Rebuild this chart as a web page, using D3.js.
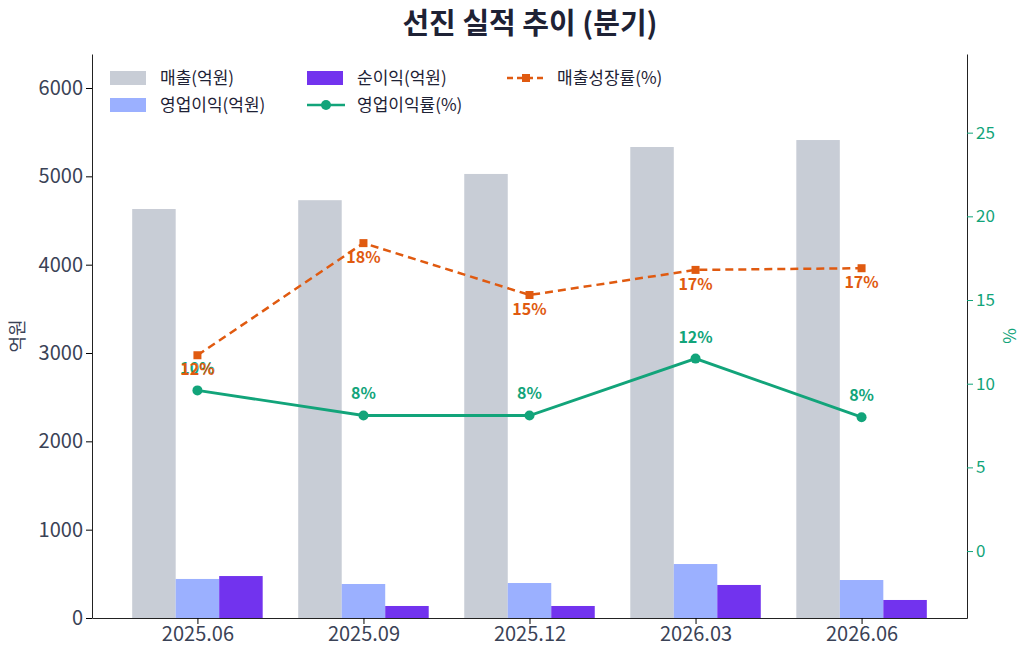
<!DOCTYPE html>
<html><head><meta charset="utf-8">
<script src="https://cdn.jsdelivr.net/npm/d3@7"></script>
<style>
body{margin:0;background:#fff;font-family:"Noto Sans CJK KR","Noto Sans",sans-serif;}
.axis text{font-family:"Noto Sans CJK KR","Noto Sans",sans-serif;}
</style></head><body><div id="chart"></div>
<script>
(function(){

let quarters = ['2025.06', '2025.09', '2025.12', '2026.03', '2026.06']
let sales = [4630, 4730, 5027, 5332, 5411]
let opProfit = [442, 385, 396, 611, 430]
let netProfit = [475, 136, 136, 374, 204]
let opMargin = [9.6, 8.1, 8.1, 11.5, 8.0]
let salesGrowth = [11.7, 18.4, 15.3, 16.8, 16.9]

let margin = { top: 54, left: 92, right: 63, bottom: 42 }
let width = 1030 - margin.left - margin.right
let height = 660 - margin.top - margin.bottom

let svg = d3.select('#chart').append('svg')
  .attr('width', 1030).attr('height', 660)
let g = svg.append('g')
  .attr('transform', 'translate(' + margin.left + ',' + margin.top + ')')

// Scales
let x = d3.scalePoint().domain(quarters).range([0, width]).padding(0.635)
let y = d3.scaleLinear().domain([0, 6385]).range([height, 0])
let y2 = d3.scaleLinear().domain([-4.0, 29.7]).range([height, 0])
let barW = 43.5

let green = '#12a47a', orange = '#e05a10'

// Title
svg.append('text').attr('x', 530).attr('y', 34).attr('text-anchor', 'middle')
  .attr('font-size', 29).attr('font-weight', 'bold').attr('fill', '#1e2235')
  .text('선진 실적 추이 (분기)')

// Bars
let series = [
  { values: sales, color: '#c8cdd6', off: -1 },
  { values: opProfit, color: '#9bb0ff', off: 0 },
  { values: netProfit, color: '#7233ee', off: 1 }
]
series.forEach(function(s){
  g.selectAll(null).data(quarters).enter().append('rect')
    .attr('x', function(d){ return x(d) + s.off * barW - barW / 2 })
    .attr('y', function(d, i){ return y(s.values[i]) })
    .attr('width', barW)
    .attr('height', function(d, i){ return height - y(s.values[i]) })
    .attr('fill', s.color)
})

// Lines
let line = d3.line().x(function(d, i){ return x(quarters[i]) }).y(function(d){ return y2(d) })

g.append('path').datum(opMargin).attr('d', line).attr('fill', 'none')
  .attr('stroke', green).attr('stroke-width', 2.8)
g.selectAll(null).data(opMargin).enter().append('circle')
  .attr('cx', function(d, i){ return x(quarters[i]) }).attr('cy', function(d){ return y2(d) })
  .attr('r', 5).attr('fill', green)

g.append('path').datum(salesGrowth).attr('d', line).attr('fill', 'none')
  .attr('stroke', orange).attr('stroke-width', 2.5).attr('stroke-dasharray', '8,5')
g.selectAll(null).data(salesGrowth).enter().append('rect')
  .attr('x', function(d, i){ return x(quarters[i]) - 4 }).attr('y', function(d){ return y2(d) - 4 })
  .attr('width', 8).attr('height', 8).attr('fill', orange)

// Labels
g.selectAll(null).data(opMargin).enter().append('text')
  .attr('x', function(d, i){ return x(quarters[i]) }).attr('y', function(d){ return y2(d) - 16 })
  .attr('text-anchor', 'middle').attr('font-size', 16).attr('font-weight', 'bold').attr('fill', green)
  .text(function(d){ return Math.round(d) + '%' })
g.selectAll(null).data(salesGrowth).enter().append('text')
  .attr('x', function(d, i){ return x(quarters[i]) }).attr('y', function(d){ return y2(d) + 20 })
  .attr('text-anchor', 'middle').attr('font-size', 16).attr('font-weight', 'bold').attr('fill', orange)
  .text(function(d){ return Math.round(d) + '%' })

// Axes
let xAxis = g.append('g').attr('class', 'axis').attr('transform', 'translate(0,' + height + ')')
  .call(d3.axisBottom(x).tickSizeOuter(0))
xAxis.selectAll('text').attr('font-size', 20).attr('fill', '#3a4256')
xAxis.select('.domain').attr('stroke', '#222')

let yAxis = g.append('g').attr('class', 'axis')
  .call(d3.axisLeft(y).tickValues([0, 1000, 2000, 3000, 4000, 5000, 6000]).tickFormat(d3.format('d')).tickSizeOuter(0))
yAxis.selectAll('text').attr('font-size', 20).attr('fill', '#3a4256')
yAxis.select('.domain').attr('stroke', '#222')

let yAxis2 = g.append('g').attr('class', 'axis').attr('transform', 'translate(' + width + ',0)')
  .call(d3.axisRight(y2).tickValues([0, 5, 10, 15, 20, 25]).tickSizeOuter(0))
yAxis2.selectAll('text').attr('font-size', 17).attr('fill', green)
yAxis2.selectAll('.tick line').attr('stroke', green)
yAxis2.select('.domain').attr('stroke', '#222')

svg.append('text').attr('transform', 'translate(24,' + (margin.top + height / 2) + ') rotate(-90)')
  .attr('text-anchor', 'middle').attr('font-size', 18).attr('fill', '#3a4256').text('억원')
svg.append('text').attr('transform', 'translate(1016,336) rotate(-90)')
  .attr('text-anchor', 'middle').attr('font-size', 17).attr('fill', green).text('%')

// Legend
let legend = [
  { label: '매출(억원)', kind: 'bar', color: '#c8cdd6', lx: 110, ly: 78 },
  { label: '영업이익(억원)', kind: 'bar', color: '#9bb0ff', lx: 110, ly: 105 },
  { label: '순이익(억원)', kind: 'bar', color: '#7233ee', lx: 307, ly: 78 },
  { label: '영업이익률(%)', kind: 'line', color: green, lx: 307, ly: 105 },
  { label: '매출성장률(%)', kind: 'dash', color: orange, lx: 507, ly: 78 }
]
legend.forEach(function(l){
  if (l.kind === 'bar') {
    svg.append('rect').attr('x', l.lx).attr('y', l.ly - 7).attr('width', 36).attr('height', 14).attr('fill', l.color)
  } else {
    svg.append('line').attr('x1', l.lx).attr('x2', l.lx + 38).attr('y1', l.ly).attr('y2', l.ly)
      .attr('stroke', l.color).attr('stroke-width', 2.6)
      .attr('stroke-dasharray', l.kind === 'dash' ? '6,4' : null)
    if (l.kind === 'dash') {
      svg.append('rect').attr('x', l.lx + 15).attr('y', l.ly - 4).attr('width', 8).attr('height', 8).attr('fill', l.color)
    } else {
      svg.append('circle').attr('cx', l.lx + 19).attr('cy', l.ly).attr('r', 5).attr('fill', l.color)
    }
  }
  svg.append('text').attr('x', l.lx + 50).attr('y', l.ly + 6).attr('font-size', 17).attr('fill', '#1e2235').text(l.label)
})

})()
</script></body></html>
